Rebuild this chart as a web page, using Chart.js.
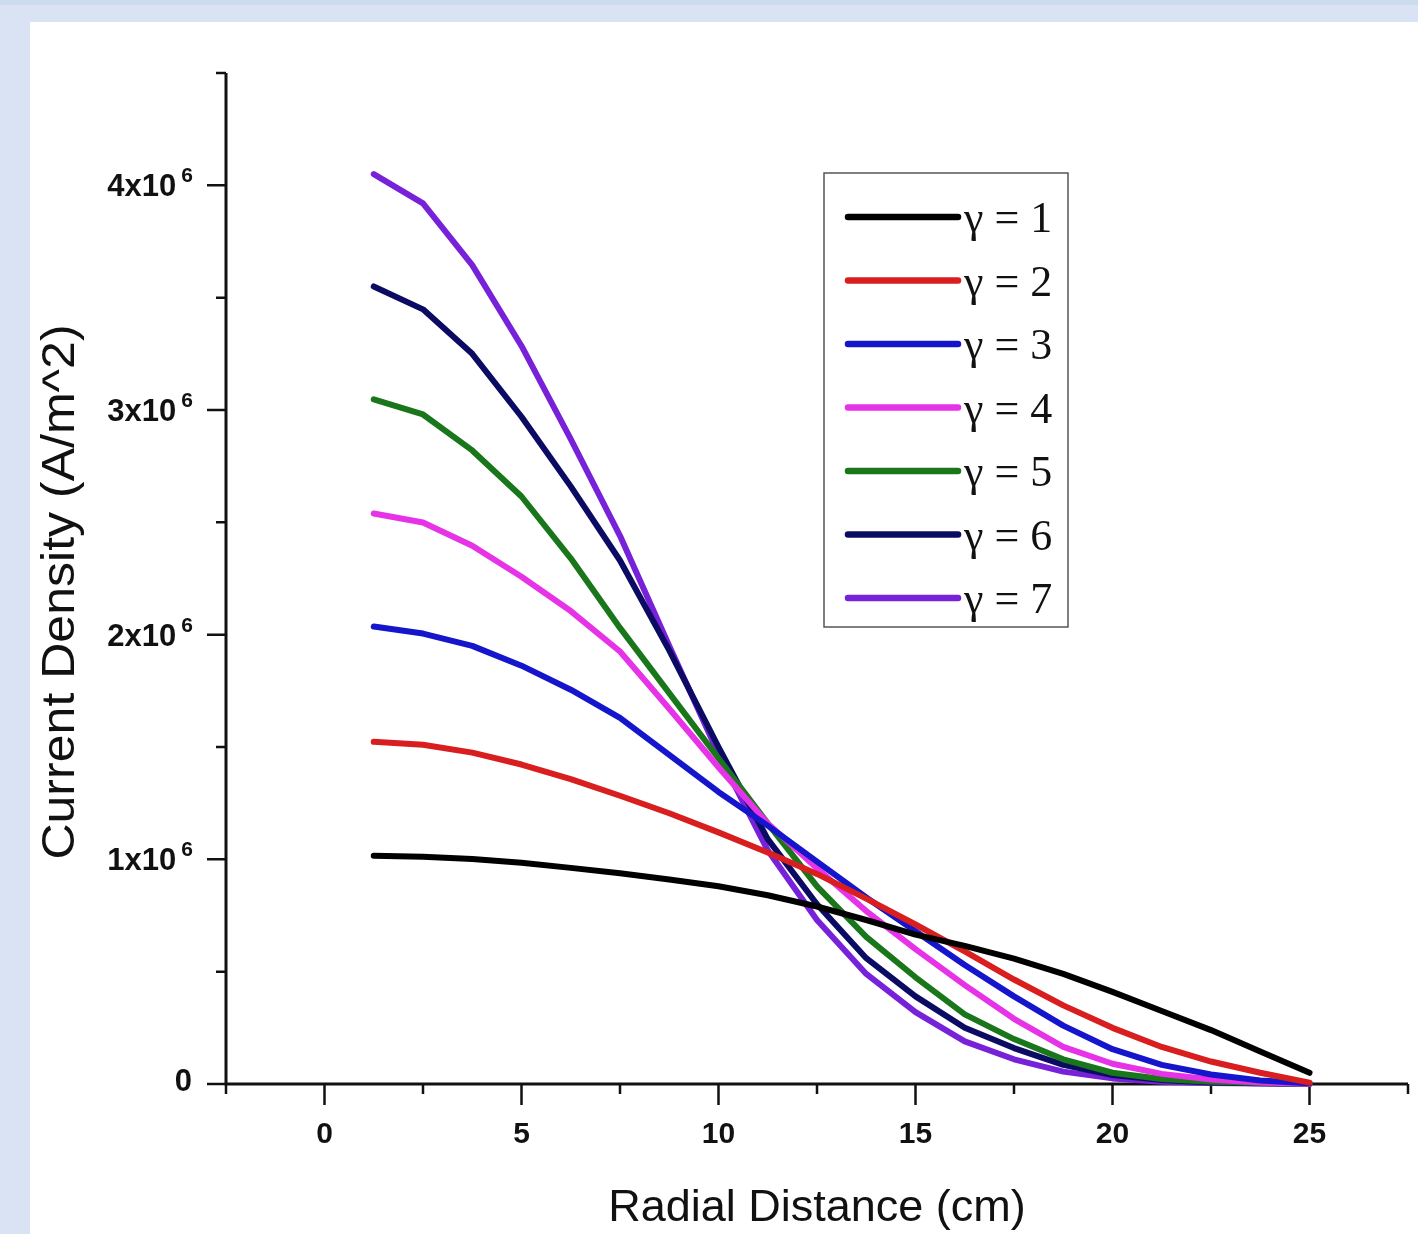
<!DOCTYPE html>
<html>
<head>
<meta charset="utf-8">
<title>Current Density vs Radial Distance</title>
<script src="https://cdn.jsdelivr.net/npm/chart.js@4.4.1/dist/chart.umd.min.js"></script>
<style>
    body { margin: 0; width: 1418px; height: 1234px; overflow: hidden; position: relative; background: #d9e3f3; }
    #strip { position: absolute; left: 0; top: 0; width: 1418px; height: 5px; background: #cbdcee; }
    #panel { position: absolute; left: 30px; top: 22px; width: 1388px; height: 1212px; background: #ffffff; }
</style>
</head>
<body>
<div id="strip"></div>
<div id="panel"><canvas id="myChart" width="1388" height="1212"></canvas></div>
<script>
// radial distance in cm, current density in 10^6 A/m^2
var radialDistance = [1.25, 2.5, 3.75, 5, 6.25, 7.5, 8.75, 10, 11.25, 12.5, 13.75, 15, 16.25, 17.5, 18.75, 20, 21.25, 22.5, 23.75, 25];

var gamma1 = [1.016, 1.012, 1.002, 0.985, 0.962, 0.938, 0.910, 0.880, 0.840, 0.790, 0.730, 0.665, 0.615, 0.558, 0.490, 0.410, 0.325, 0.240, 0.145, 0.050];
var gamma2 = [1.523, 1.510, 1.475, 1.422, 1.357, 1.283, 1.205, 1.120, 1.030, 0.935, 0.825, 0.710, 0.590, 0.465, 0.350, 0.250, 0.165, 0.100, 0.050, 0.006];
var gamma3 = [2.036, 2.005, 1.950, 1.862, 1.755, 1.630, 1.465, 1.300, 1.150, 0.990, 0.830, 0.680, 0.530, 0.390, 0.260, 0.155, 0.085, 0.042, 0.016, 0.003];
var gamma4 = [2.539, 2.499, 2.396, 2.258, 2.105, 1.925, 1.670, 1.410, 1.160, 0.960, 0.770, 0.600, 0.440, 0.290, 0.165, 0.090, 0.045, 0.020, 0.007, 0.001];
var gamma5 = [3.047, 2.980, 2.820, 2.615, 2.340, 2.030, 1.740, 1.450, 1.160, 0.880, 0.655, 0.475, 0.310, 0.200, 0.110, 0.050, 0.022, 0.010, 0.004, 0.001];
var gamma6 = [3.550, 3.448, 3.250, 2.970, 2.660, 2.330, 1.930, 1.500, 1.090, 0.800, 0.560, 0.390, 0.250, 0.160, 0.085, 0.040, 0.018, 0.007, 0.003, 0.001];
var gamma7 = [4.050, 3.920, 3.645, 3.285, 2.870, 2.440, 1.950, 1.470, 1.040, 0.730, 0.490, 0.320, 0.190, 0.110, 0.055, 0.025, 0.010, 0.004, 0.002, 0.001];

var seriesLabels = ['γ = 1', 'γ = 2', 'γ = 3', 'γ = 4', 'γ = 5', 'γ = 6', 'γ = 7'];
var seriesColors = ['#000000', '#d81e1e', '#1515cc', '#e733e7', '#1a761a', '#0b0b64', '#7722d8'];

var xTicks = [0, 5, 10, 15, 20, 25];
var yTicks = [0, 1, 2, 3, 4];
var yTickText = ['0', '1x10', '2x10', '3x10', '4x10'];
var yTickPower = ['', '6', '6', '6', '6'];

var xTitle = 'Radial Distance (cm)';
var yTitle = 'Current Density (A/m^2)';

Chart.defaults.font.family = '"Liberation Sans", Arial, sans-serif';

var seriesData = [gamma1, gamma2, gamma3, gamma4, gamma5, gamma6, gamma7];
var datasets = [];
for (var i = 0; i < seriesData.length; i++) {
    var pts = [];
    for (var j = 0; j < radialDistance.length; j++) {
        pts.push({ x: radialDistance[j], y: seriesData[i][j] });
    }
    datasets.push({
        label: seriesLabels[i],
        data: pts,
        borderColor: seriesColors[i],
        backgroundColor: seriesColors[i],
        borderWidth: 6,
        pointRadius: 0,
        tension: 0,
        fill: false,
        borderCapStyle: 'round',
        borderJoinStyle: 'round',
        clip: false
    });
}

// axis lines, ticks and labels in the Origin style
var axesPlugin = {
    id: 'originAxes',
    beforeDatasetsDraw: function (chart) {
        var c = chart.ctx;
        var xs = chart.scales.x;
        var ys = chart.scales.y;
        var left = xs.getPixelForValue(xs.min);
        var right = xs.getPixelForValue(xs.max);
        var bottom = ys.getPixelForValue(0);
        var top = ys.getPixelForValue(ys.max);
        c.save();
        c.strokeStyle = '#111111';
        c.lineWidth = 3;
        c.lineCap = 'butt';
        c.beginPath();
        c.moveTo(left, top);
        c.lineTo(left, bottom);
        c.lineTo(right, bottom);
        c.stroke();

        c.lineWidth = 2.5;
        c.beginPath();
        for (var v = 0; v <= ys.max + 0.001; v += 0.5) {
            var py = ys.getPixelForValue(v);
            var len = (v % 1 === 0) ? 19 : 10;
            c.moveTo(left - len, py);
            c.lineTo(left, py);
        }
        for (var u = xs.min; u <= xs.max + 0.001; u += 2.5) {
            var px = xs.getPixelForValue(u);
            var l2 = (u % 5 === 0) ? 21 : 10;
            c.moveTo(px, bottom);
            c.lineTo(px, bottom + l2);
        }
        c.stroke();

        c.fillStyle = '#111111';
        c.font = 'bold 30px "Liberation Sans", Arial, sans-serif';
        c.textAlign = 'center';
        c.textBaseline = 'alphabetic';
        for (var k = 0; k < xTicks.length; k++) {
            c.fillText(String(xTicks[k]), xs.getPixelForValue(xTicks[k]), bottom + 59);
        }

        for (var m = 0; m < yTicks.length; m++) {
            var ty = ys.getPixelForValue(yTicks[m]);
            c.textAlign = 'right';
            if (yTickPower[m]) {
                c.font = 'bold 21px "Liberation Sans", Arial, sans-serif';
                c.fillText(yTickPower[m], left - 33, ty - 3);
                var pw = c.measureText(yTickPower[m]).width;
                c.font = 'bold 31px "Liberation Sans", Arial, sans-serif';
                c.fillText(yTickText[m], left - 33 - pw - 5, ty + 11);
            } else {
                c.font = 'bold 31px "Liberation Sans", Arial, sans-serif';
                c.fillText(yTickText[m], left - 34, ty + 7);
            }
        }

        c.font = '45px "Liberation Sans", Arial, sans-serif';
        c.textAlign = 'center';
        c.fillText(xTitle, (left + right) / 2, bottom + 137);

        // the y title is a little stretched along its length in the original
        c.save();
        c.translate(44, 570);
        c.rotate(-Math.PI / 2);
        c.scale(1.088, 1);
        c.font = '46px "Liberation Sans", Arial, sans-serif';
        c.fillText(yTitle, 0, 0);
        c.restore();
        c.restore();
    },
    afterDraw: function (chart) {
        var c = chart.ctx;
        var boxL = 794, boxT = 151, boxW = 244, boxH = 454;
        c.save();
        c.fillStyle = '#ffffff';
        c.fillRect(boxL, boxT, boxW, boxH);
        c.strokeStyle = '#555555';
        c.lineWidth = 1.5;
        c.strokeRect(boxL, boxT, boxW, boxH);
        c.lineCap = 'round';
        c.font = '44px "Liberation Serif", "Times New Roman", serif';
        c.textAlign = 'left';
        c.textBaseline = 'alphabetic';
        chart.data.datasets.forEach(function (ds, idx) {
            var ly = boxT + 44 + idx * 63.5;
            c.strokeStyle = ds.borderColor;
            c.lineWidth = 6.5;
            c.beginPath();
            c.moveTo(818, ly);
            c.lineTo(928, ly);
            c.stroke();
            c.fillStyle = '#111111';
            c.fillText(ds.label, 934, ly + 15);
        });
        c.restore();
    }
};

var ctx = document.getElementById('myChart').getContext('2d');
var myChart = new Chart(ctx, {
    type: 'line',
    data: { datasets: datasets },
    options: {
        responsive: false,
        animation: false,
        devicePixelRatio: 1,
        layout: { padding: { left: 0, top: 51, right: 10, bottom: 0 } },
        plugins: {
            legend: { display: false },
            tooltip: { enabled: false }
        },
        scales: {
            x: {
                type: 'linear',
                min: -2.5,
                max: 27.5,
                grid: { display: false },
                border: { display: false },
                ticks: { display: false },
                afterFit: function (scale) { scale.height = 150; }
            },
            y: {
                type: 'linear',
                min: 0,
                max: 4.5,
                grid: { display: false },
                border: { display: false },
                ticks: { display: false },
                afterFit: function (scale) { scale.width = 196; }
            }
        }
    },
    plugins: [axesPlugin]
});
</script>
</body>
</html>
